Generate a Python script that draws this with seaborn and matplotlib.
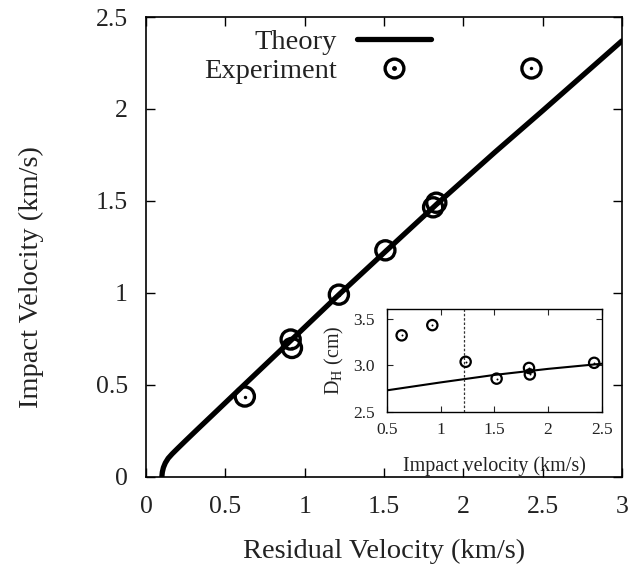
import matplotlib
matplotlib.use("Agg")
import matplotlib.pyplot as plt
import seaborn as sns
import pandas as pd
from matplotlib.lines import Line2D
from matplotlib.legend_handler import HandlerTuple

# ---- main plot data ----
theory_residual = [0.100, 0.103, 0.110, 0.122, 0.140, 0.165, 0.200, 0.250, 0.320, 0.420,
                   0.550, 0.700, 0.900, 1.216, 1.510, 1.830, 2.200, 2.500, 3.000]
theory_impact = [0.000, 0.025, 0.050, 0.075, 0.100, 0.124, 0.154, 0.196, 0.254, 0.336,
                 0.443, 0.566, 0.730, 0.990, 1.225, 1.480, 1.765, 1.990, 2.370]

exp_residual = [0.623, 0.912, 0.92, 1.216, 1.509, 1.81, 1.83, 2.43]
exp_impact = [0.436, 0.746, 0.70, 0.99, 1.231, 1.465, 1.49, 2.22]

# ---- inset data ----
inset_impact = [0.634, 0.92, 1.231, 1.52, 1.822, 1.83, 2.43]
inset_dh = [3.32, 3.43, 3.036, 2.855, 2.97, 2.90, 3.025]
inset_theory_impact = [0.5, 1.0, 1.5, 2.0, 2.5]
inset_theory_dh = [2.73, 2.815, 2.895, 2.96, 3.015]
inset_vline = 1.22

main_xticks = [0, 0.5, 1, 1.5, 2, 2.5, 3]
main_xticklabels = ["0", "0.5", "1", "1.5", "2", "2.5", "3"]
main_yticks = [0, 0.5, 1, 1.5, 2, 2.5]
main_yticklabels = ["0", "0.5", "1", "1.5", "2", "2.5"]
inset_xticks = [0.5, 1, 1.5, 2, 2.5]
inset_xticklabels = ["0.5", "1", "1.5", "2", "2.5"]
inset_yticks = [2.5, 3.0, 3.5]
inset_yticklabels = ["2.5", "3.0", "3.5"]

sns.set_theme(style="ticks")
plt.rcParams["font.family"] = ["Liberation Serif", "DejaVu Serif"]
plt.rcParams["mathtext.fontset"] = "custom"
plt.rcParams["mathtext.rm"] = "Liberation Serif"
plt.rcParams["mathtext.it"] = "Liberation Serif:italic"

TXT = "#222222"
fig = plt.figure(figsize=(6.32, 5.67), dpi=100)
ax = fig.add_axes([0.231, 0.1593, 0.753, 0.8107])

df_t = pd.DataFrame({"x": theory_residual, "y": theory_impact})
df_e = pd.DataFrame({"x": exp_residual, "y": exp_impact})

sns.lineplot(data=df_t, x="x", y="y", ax=ax, color="black", linewidth=3.8,
             sort=False, estimator=None, solid_capstyle="round", solid_joinstyle="round")
sns.scatterplot(data=df_e, x="x", y="y", ax=ax, marker="o", s=190,
                facecolors="none", edgecolors="black", linewidth=2.4, zorder=3)
sns.scatterplot(data=df_e, x="x", y="y", ax=ax, marker="o", s=6,
                color="black", edgecolor="black", linewidth=0, zorder=3)

ax.set_xlim(0, 3)
ax.set_ylim(0, 2.5)
ax.set_xticks(main_xticks)
ax.set_xticklabels(main_xticklabels)
ax.set_yticks(main_yticks)
ax.set_yticklabels(main_yticklabels)
ax.tick_params(axis="both", direction="in", length=6.5, width=1, top=True, right=True,
               labelsize=18.5, colors="black", labelcolor=TXT)
ax.tick_params(axis="x", pad=14)
ax.tick_params(axis="y", pad=13)
for s in ax.spines.values():
    s.set_linewidth(1.2)
    s.set_color("black")
ax.set_xlabel("Residual Velocity (km/s)", fontsize=20.5, color=TXT, labelpad=15)
ax.set_ylabel("Impact Velocity (km/s)", fontsize=20.5, color=TXT)
ax.yaxis.set_label_coords(-0.215, 0.435)

h_theory = Line2D([], [], color="black", linewidth=3.8)
h_ring = Line2D([], [], color="black", marker="o", markersize=13.5, markerfacecolor="none",
                markeredgewidth=2.4, linestyle="none")
h_dot = Line2D([], [], color="black", marker="o", markersize=2.5, linestyle="none")
leg = ax.legend([h_theory, (h_ring, h_dot)], ["Theory", "Experiment"],
                handler_map={tuple: HandlerTuple(ndivide=1)},
                loc="upper right", bbox_to_anchor=(0.599, 0.974), frameon=False,
                markerfirst=False, handlelength=2.6, handletextpad=0.7,
                labelspacing=0.1, fontsize=20.5, borderaxespad=0, borderpad=0)
for t in leg.get_texts():
    t.set_color(TXT)

# ---- inset ----
axin = fig.add_axes([0.6128, 0.2739, 0.3392, 0.1806])
axin.set_facecolor("white")
df_it = pd.DataFrame({"x": inset_theory_impact, "y": inset_theory_dh})
df_ie = pd.DataFrame({"x": inset_impact, "y": inset_dh})
sns.lineplot(data=df_it, x="x", y="y", ax=axin, color="black", linewidth=1.5,
             sort=False, estimator=None)
sns.scatterplot(data=df_ie, x="x", y="y", ax=axin, marker="o", s=55,
                facecolors="none", edgecolors="black", linewidth=1.6, zorder=3)
sns.scatterplot(data=df_ie, x="x", y="y", ax=axin, marker="o", s=2,
                color="black", linewidth=0, zorder=3)
axin.axvline(inset_vline, color="#333333", linestyle=(0, (2, 1.5)), linewidth=0.9)
axin.set_xlim(0.5, 2.5)
axin.set_ylim(2.5, 3.6)
axin.set_xticks(inset_xticks)
axin.set_xticklabels(inset_xticklabels)
axin.set_yticks(inset_yticks)
axin.set_yticklabels(inset_yticklabels)
axin.tick_params(axis="both", direction="in", length=4, width=0.8, top=True, right=True,
                 labelsize=12.5, labelcolor=TXT)
axin.tick_params(axis="x", pad=7.5)
axin.tick_params(axis="y", pad=9)
for s in axin.spines.values():
    s.set_linewidth(1.0)
    s.set_color("black")
axin.set_xlabel("Impact velocity (km/s)", fontsize=14.5, color=TXT, labelpad=13)
axin.set_ylabel(r"D$_\mathrm{H}$ (cm)", fontsize=14.5, color=TXT, labelpad=5)

fig.savefig("out.png", dpi=100, facecolor="white")
